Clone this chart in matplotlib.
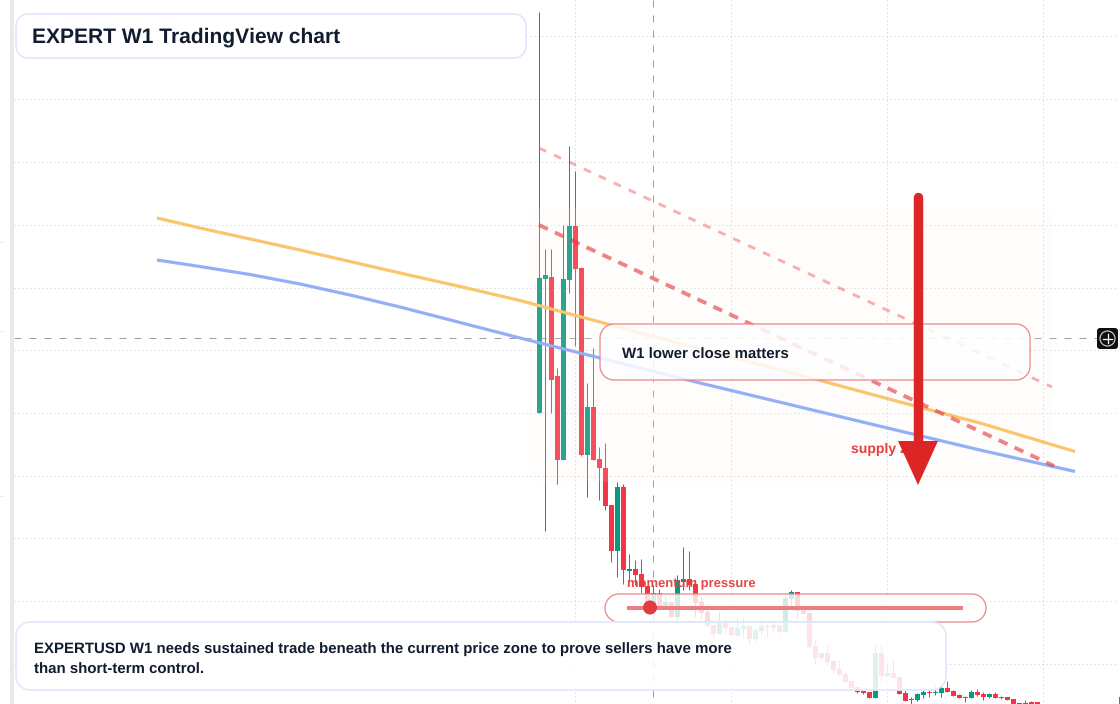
import numpy as np
import matplotlib
matplotlib.use("Agg")
import matplotlib.pyplot as plt
from matplotlib.patches import Circle, PathPatch, Rectangle
from matplotlib.path import Path

plt.rcParams['font.family'] = ['Liberation Sans', 'DejaVu Sans']
plt.rcParams['text.hinting'] = 'no_hinting'
plt.rcParams['text.hinting_factor'] = 1

# weekly candles on the chart's vertical scale (it grows downward)
body_top = [278, 275, 277, 376, 279, 226, 226, 268, 407, 407, 459, 468, 505, 487, 487, 569, 569, 574, 586, 593, 593,
            602, 602, 580, 579, 579, 584, 602, 612, 625, 622, 621, 627, 628, 626, 626, 630, 626, 626, 625, 625, 598,
            592, 592, 609, 613, 646, 653, 653, 661, 669, 674, 681, 687, 691, 692, 653, 653, 673, 673, 677, 693, 698.5,
            694, 692, 691.5, 691.5, 688, 688, 691, 695, 697, 692, 692, 694, 694, 694, 697, 697, 699, 703, 702.5, 702, 702]
body_bot = [413, 279, 380, 460, 460, 280, 269, 455, 455, 460, 468, 506, 551, 551, 570, 570.5, 575, 587, 607, 605, 607,
            607, 617, 617, 582, 585, 603, 613, 626, 634, 634, 628, 635, 636, 629, 639, 639, 631, 627, 628, 632, 632,
            599, 611, 614, 647, 658, 658, 662, 670, 675, 682, 688, 692, 693, 698, 698, 676, 676, 678, 694, 701, 699.5,
            700, 695, 693, 693, 693, 692, 696, 698, 698, 698, 695, 697, 697, 698, 698, 700, 704, 704, 705, 703.5, 705]
wick_top = [12, 249, 249, 368, 225, 146, 171, 267, 383, 348, 447, 443, 505, 482, 484, 554, 560, 559, 586, 585, 589,
            596, 602, 575, 547, 551, 580, 597, 604, 625, 612, 618, 627, 618, 618, 625, 628, 620, 624, 620, 625, 596,
            590, 592, 609, 613, 639, 653, 645, 660, 660, 671, 681, 687, 691, 692, 645, 645, 663, 659, 677, 690, 697,
            693, 689, 688, 686, 686, 681, 690, 694, 696, 690, 689, 692, 693, 692, 696, 697, 699, 703, 700, 701, 702]
wick_bot = [413, 531, 413, 484, 460, 293, 346, 456, 497, 460, 500, 510, 562, 577, 584, 581, 585, 593, 607, 605, 607,
            609, 617, 622, 590, 590, 617, 618, 626, 638, 634, 634, 636, 636, 638, 645, 641, 635, 637, 633, 633, 632,
            605, 618, 614, 648, 664, 661, 665, 674, 676, 682, 688, 693, 694, 698, 698, 681, 676, 678, 694, 701, 704,
            701, 698, 697, 695, 697, 692, 696, 698, 702, 698, 696, 700, 698, 698, 699, 700, 704, 704, 705, 705, 705]
is_up = [1, 1, 0, 0, 1, 1, 0, 0, 1, 0, 0, 0, 0, 1, 0, 1, 0, 0, 0, 1, 0,
         1, 0, 1, 1, 0, 0, 0, 0, 0, 1, 0, 0, 1, 1, 0, 1, 1, 0, 1, 0, 1,
         1, 0, 0, 0, 0, 1, 0, 0, 0, 0, 0, 0, 0, 0, 1, 0, 1, 0, 0, 0, 1,
         1, 1, 0, 1, 1, 0, 0, 0, 1, 1, 0, 0, 1, 0, 0, 0, 0, 1, 1, 0, 0]

# moving averages, sampled along the time scale
ma_x = [157, 200, 250, 300, 350, 400, 460, 520, 600, 700, 800, 900, 980, 1075]
ma_orange = [218, 228, 239, 250, 261.5, 273, 286.5, 300.5, 322, 349, 375, 402, 423, 451.5]
ma_blue = [260, 266.5, 274.5, 284, 295, 307, 322.5, 338, 358, 383, 407, 431, 450, 471.5]

grid_y = [36, 99, 162, 224.5, 287.5, 350, 412.5, 475.5, 538, 601, 663.5]
grid_x = [575, 731, 887, 1043]
rail_ticks = [242, 331, 496]

title = "EXPERT W1 TradingView chart"
note = ("EXPERTUSD W1 needs sustained trade beneath the current price zone to prove sellers have more\n"
        "than short-term control.")

UP = "#089981"
DOWN = "#f23645"
ALERT = "#dc2626"
INK = "#111c2e"
RED_EDGE = "#ee838a"
BLUE_EDGE = "#e0eafb"


def round_box(ax, x0, y0, x1, y1, r, face, edge, lw, zorder):
    # circular corners, FancyBboxPatch's quadratic ones come out too square
    k = r * (1 - 0.5523)
    verts = [(x0 + r, y0), (x1 - r, y0),
             (x1 - k, y0), (x1, y0 + k), (x1, y0 + r),
             (x1, y1 - r),
             (x1, y1 - k), (x1 - k, y1), (x1 - r, y1),
             (x0 + r, y1),
             (x0 + k, y1), (x0, y1 - k), (x0, y1 - r),
             (x0, y0 + r),
             (x0, y0 + k), (x0 + k, y0), (x0 + r, y0),
             (x0 + r, y0)]
    c4 = Path.CURVE4
    codes = [Path.MOVETO, Path.LINETO, c4, c4, c4, Path.LINETO, c4, c4, c4,
             Path.LINETO, c4, c4, c4, Path.LINETO, c4, c4, c4, Path.CLOSEPOLY]
    box = PathPatch(Path(verts, codes), facecolor=face, edgecolor=edge, linewidth=lw, zorder=zorder)
    ax.add_patch(box)
    return box


fig = plt.figure(figsize=(11.2, 7.04), dpi=100)
ax = fig.add_axes([0, 0, 1, 1])
ax.set_xlim(0, 1120)
ax.set_ylim(704, 0)
ax.axis("off")

# left rail and grid
ax.add_patch(Rectangle((10, 0), 4, 704, facecolor="#e9e9e9", edgecolor="none", zorder=1))
ax.hlines(rail_ticks, 0, 2, color="#dddddd", lw=0.72, zorder=1)
ax.hlines(grid_y, 14, 1116, color="#cccccc", lw=0.72, linestyle=(0, (1, 3)), zorder=1)
ax.vlines(grid_x, 0, 704, color="#cccccc", lw=0.72, linestyle=(0, (1, 3)), zorder=1)

# crosshair
ax.hlines(338, 14, 1097, color="#9e9e9e", lw=0.72, linestyle=(0, (7, 8)), zorder=1.5)
ax.vlines(653, 0, 704, color="#9e9e9e", lw=0.72, linestyle=(0, (7, 8)), zorder=1.5)

# candles
candle_x = 539.5 + 6.0 * np.arange(len(body_top))
top = np.array(body_top, dtype=float)
bot = np.array(body_bot, dtype=float)
colors = [UP if u else DOWN for u in is_up]
ax.vlines(candle_x - 0.5, wick_top, wick_bot, colors=colors, lw=0.72, zorder=2)
ax.bar(candle_x, bot - top, bottom=top, width=5, color=colors, linewidth=0, zorder=2.1)
ax.bar([1119.5], [7], bottom=[697], width=1.5, color=DOWN, linewidth=0, zorder=2.1)

# supply zone shading
round_box(ax, 527, 208, 1053, 482, 12, (1.0, 0.96, 0.92, 0.14), "none", 0, 3)

# moving averages and falling trend lines
ax.plot(ma_x, ma_orange, color="#f9c56d", lw=2.3, solid_capstyle="butt", zorder=4)
ax.plot(ma_x, ma_blue, color="#93aff5", lw=2.3, solid_capstyle="butt", zorder=4)
ax.plot([539, 1052], [148, 387], color="#ef4444", alpha=0.42, lw=2.1,
        linestyle=(0, (2.7, 2.95)), dash_capstyle="butt", zorder=4.1)
ax.plot([539, 1054], [225, 466], color="#e5393f", alpha=0.62, lw=2.8,
        linestyle=(0, (2.5, 2.0)), dash_capstyle="butt", zorder=4.1)

ax.text(851, 449, "supply zone", color="#e53e3e", fontsize=10.08, fontweight="bold",
        va="center", ha="left", zorder=4.5)

# annotation boxes
round_box(ax, 600, 324, 1030, 380, 14, (1, 1, 1, 0.84), RED_EDGE, 0.9, 5)
ax.text(622, 355, "W1 lower close matters", color=INK, fontsize=10.8, fontweight="bold",
        va="center", ha="left", zorder=5.5)

round_box(ax, 605, 594, 986, 622, 14, (1, 1, 1, 0.82), RED_EDGE, 0.9, 5)
ax.plot([627, 963], [607.5, 607.5], color="#ea7f82", lw=2.9, solid_capstyle="butt", zorder=5.2)
ax.add_patch(Circle((650, 607.5), 7, facecolor="#e23b3f", edgecolor="none", zorder=5.3))
ax.text(627, 584, "momentum pressure", color="#e53e3e", alpha=0.95, fontsize=9.36, fontweight="bold",
        va="center", ha="left", zorder=5.4)

round_box(ax, 16, 622, 946, 690, 14, (1, 1, 1, 0.87), BLUE_EDGE, 1.3, 6)
ax.text(34, 659.5, note, color=INK, fontsize=10.8, fontweight="bold", va="center", ha="left",
        linespacing=1.67, zorder=6.5)

round_box(ax, 16, 14, 526, 58, 12, "white", BLUE_EDGE, 1.3, 6)
ax.text(32, 37.5, title, color=INK, fontsize=15.12, fontweight="bold", va="center", ha="left", zorder=6.5)

# large downward arrow
ax.plot([918, 918], [197, 445], color=ALERT, lw=6.8, solid_capstyle="round", zorder=7)
ax.fill([898, 938, 918], [441, 441, 485], color=ALERT, linewidth=0, zorder=7)

# crosshair "add" button
round_box(ax, 1097, 328, 1118, 349, 3, "#0f0f0f", "none", 0, 8)
ax.add_patch(Circle((1107.5, 338.5), 7.5, facecolor="none", edgecolor="#d8d8d8", linewidth=0.8, zorder=8.1))
ax.plot([1103, 1112], [338.5, 338.5], color="white", lw=0.9, zorder=8.2)
ax.plot([1107.5, 1107.5], [334, 343], color="white", lw=0.9, zorder=8.2)
ax.vlines(1119.5, 328, 349, color="#0f0f0f", lw=0.8, zorder=8)

fig.savefig("out.png", dpi=100, facecolor="white")
